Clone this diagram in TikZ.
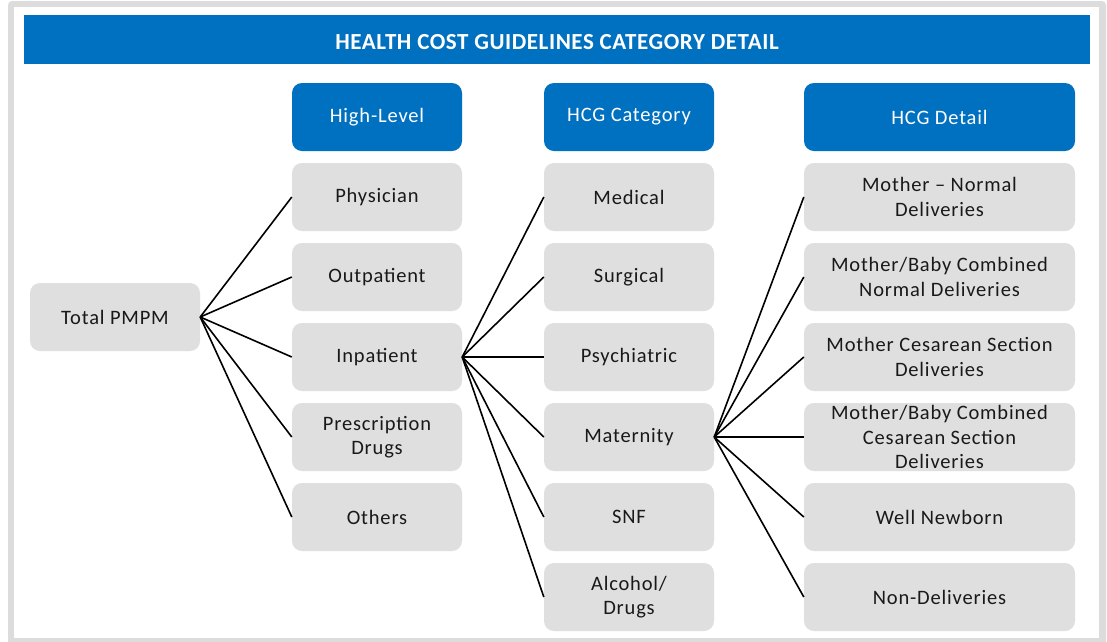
\documentclass[tikz,border=0pt]{standalone}
\usepackage{fontspec}
\setmainfont{Carlito}[LetterSpace=4]
\definecolor{hcgblue}{HTML}{0070C0}
\definecolor{boxgray}{HTML}{DFDFDF}
\definecolor{framegray}{HTML}{DCDCDC}
\begin{document}
\begin{tikzpicture}[x=1pt, y=-1pt,
    item/.style={rectangle, rounded corners=10pt, fill=boxgray, minimum width=170pt,
        minimum height=68pt, inner sep=0pt, align=center,
        font=\fontsize{20.5}{24.5}\selectfont, text=black!90},
    head/.style={item, fill=hcgblue, text=white},
    link/.style={line width=1.6pt}]

    \useasboundingbox (0,0) rectangle (1107,641);

    % Gray frame around the chart
    \fill[framegray, rounded corners=4pt] (8,1) rectangle (1106,645);
    \fill[white] (14,7) rectangle (1099,638);

    % Title bar
    \fill[hcgblue] (24,15) rectangle (1090,64);
    \node[font=\fontsize{23}{26}\selectfont\bfseries\addfontfeatures{LetterSpace=2.5}, text=white]
        (title) at (557,42) {HEALTH COST GUIDELINES CATEGORY DETAIL};

    % Column headers
    \node[head] (hlhead) at (377,117) {High-Level};
    \node[head] (cathead) at (629,117) {HCG Category};
    \node[head, minimum width=271pt] (dethead) at (939.5,117) {HCG Detail};

    % Root
    \node[item] (total) at (115,317) {Total PMPM};

    % High-level items
    \foreach \i/\txt in {1/Physician, 2/Outpatient, 3/Inpatient, 4/{Prescription\\Drugs}, 5/Others}
        \node[item] (hl\i) at (377,117+80*\i) {\txt};

    % HCG categories
    \foreach \i/\txt in {1/Medical, 2/Surgical, 3/Psychiatric, 4/Maternity, 5/SNF, 6/{Alcohol/\\Drugs}}
        \node[item] (cat\i) at (629,117+80*\i) {\txt};

    % HCG details
    \foreach \i/\txt in {1/{Mother -- Normal\\Deliveries}, 2/{Mother/Baby Combined\\Normal Deliveries},
        3/{Mother Cesarean Section\\Deliveries}, 4/{Mother/Baby Combined\\Cesarean Section\\Deliveries},
        5/Well Newborn, 6/Non-Deliveries}
        \node[item, minimum width=271pt] (det\i) at (939.5,117+80*\i) {\txt};

    % Fan-out lines
    \foreach \i in {1,...,5}
        \draw[link] (total.east) -- (hl\i.west);
    \foreach \i in {1,...,6}
        \draw[link] (hl3.east) -- (cat\i.west);
    \foreach \i in {1,...,6}
        \draw[link] (cat4.east) -- (det\i.west);

\end{tikzpicture}
\end{document}
